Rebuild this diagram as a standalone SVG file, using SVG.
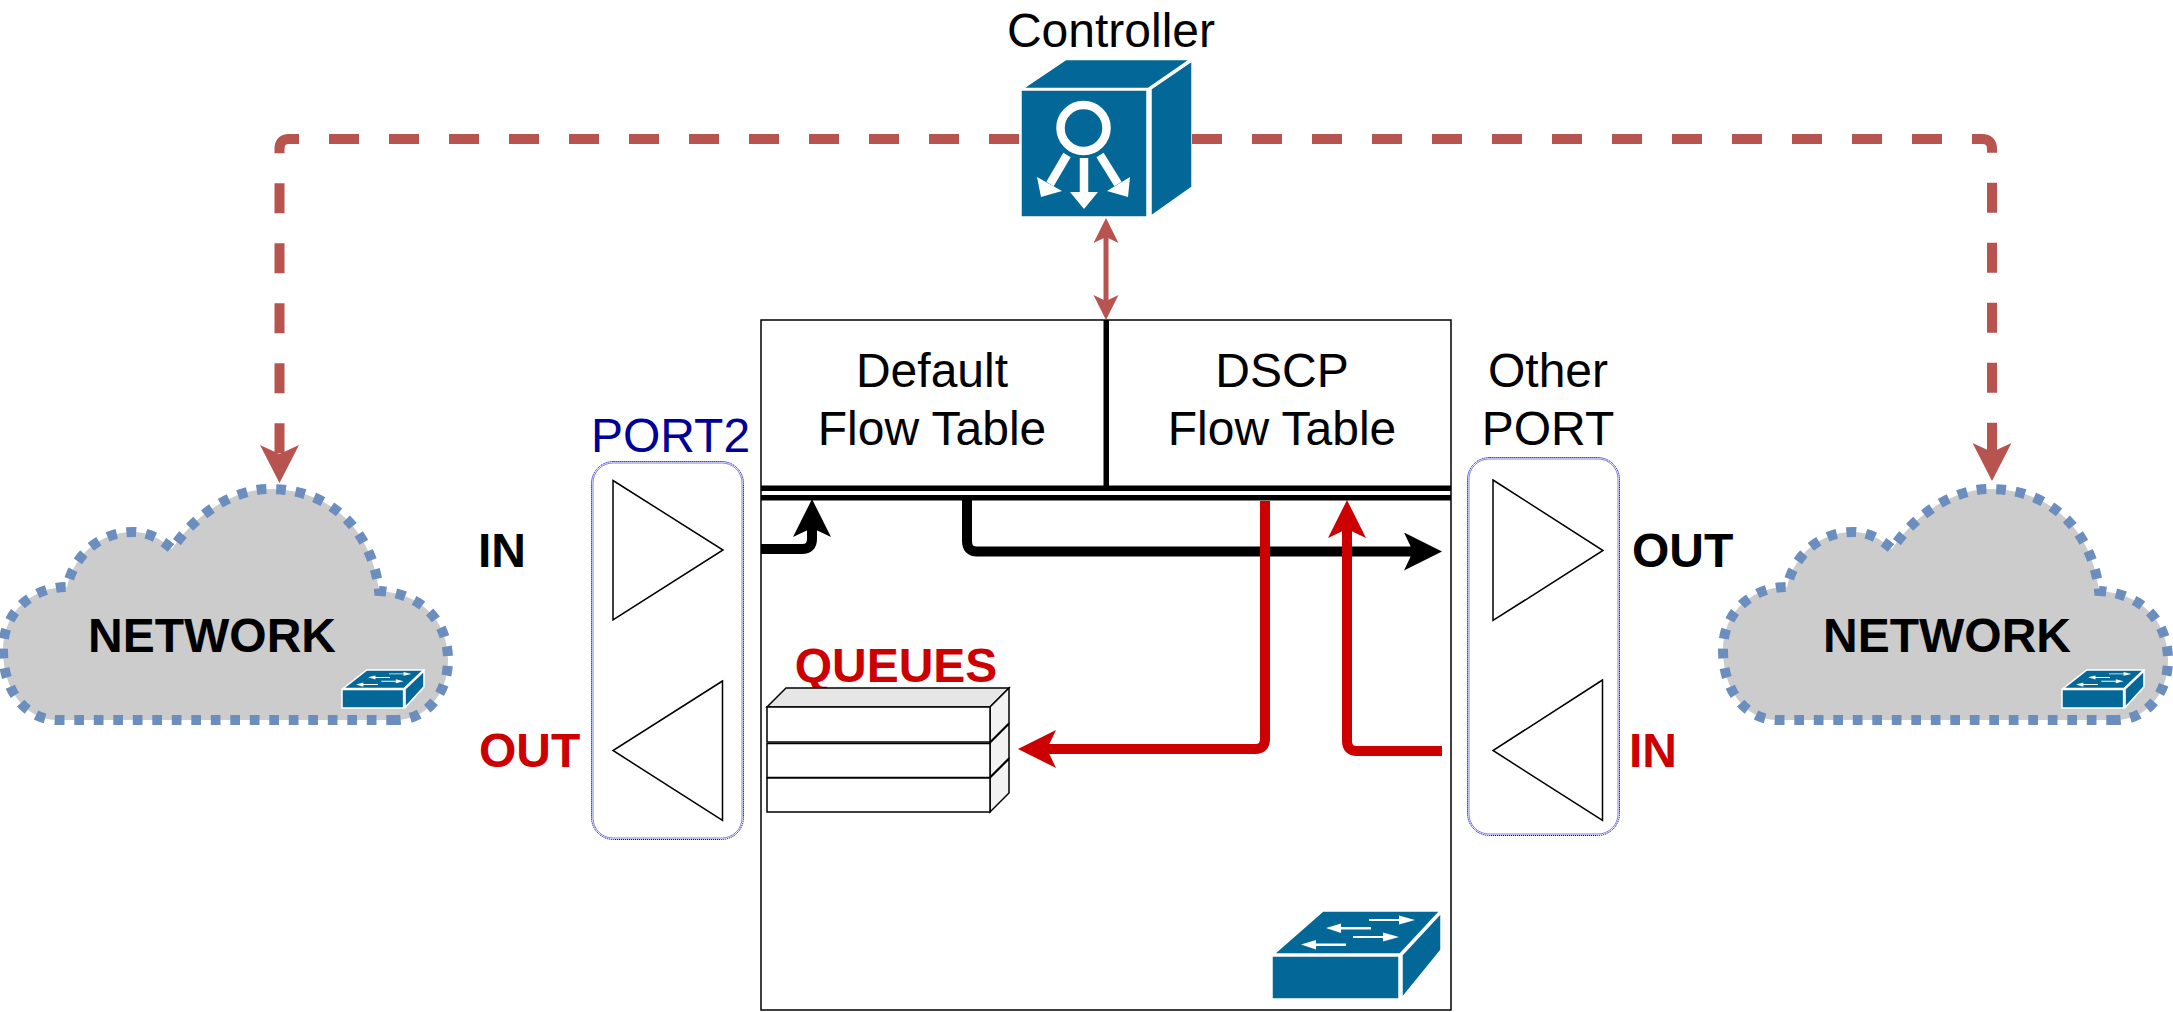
<svg xmlns="http://www.w3.org/2000/svg" width="2173" height="1012" viewBox="0 0 2173 1012">
<style>
text{font-family:"Liberation Sans",Arial,sans-serif;font-size:48px;fill:#000}
.m{text-anchor:middle}
.b{font-weight:bold}
.r{fill:#cc0000}
.cisco{fill:#036897;stroke:#fff;stroke-width:1.5;vector-effect:non-scaling-stroke}
.wh{fill:#fff;stroke:none}
.cloud{fill:#cccccc;stroke:#6c8ebf;stroke-width:10;stroke-dasharray:9.7 9.8}
.tri{fill:#fff;stroke:#000;stroke-width:1.5}
.po{fill:none;stroke:#0000cc;stroke-width:1;stroke-dasharray:1.2 .8}
.pi{fill:none;stroke:#8080e0;stroke-width:1}
.q{fill:#fff;stroke:#000;stroke-width:1.5}
.dash{fill:none;stroke:#b85450;stroke-width:10;stroke-dasharray:30 30}
.bk{fill:none;stroke:#000;stroke-width:10}
.rd{fill:none;stroke:#cc0000;stroke-width:10}
</style>
<defs>
<marker id="aDash" markerUnits="userSpaceOnUse" markerWidth="40" markerHeight="40" viewBox="0 0 40 40" refX="12" refY="19.5" orient="auto"><path d="M0 0L38 19.5L0 39L9 19.5Z" fill="#b85450"/></marker>
<marker id="aBk" markerUnits="userSpaceOnUse" markerWidth="40" markerHeight="40" viewBox="0 0 40 40" refX="12" refY="19" orient="auto"><path d="M0 0L38 19L0 38L9 19Z" fill="#000"/></marker>
<marker id="aRd" markerUnits="userSpaceOnUse" markerWidth="40" markerHeight="40" viewBox="0 0 40 40" refX="12" refY="19" orient="auto"><path d="M0 0L38 19L0 38L9 19Z" fill="#cc0000"/></marker>
<marker id="aCt" markerUnits="userSpaceOnUse" markerWidth="28" markerHeight="28" viewBox="0 0 28 28" refX="8" refY="12.5" orient="auto-start-reverse"><path d="M0 0L25 12.5L0 25L6 12.5Z" fill="#b85450"/></marker>
<path id="cloudShape" class="cloud" d="M396 720H58C25 720 3 690 3 650C3 612 32 587 67 587C74 555 100 532 133 532C147 532 160 538 172 549C195 515 232 489 270 489C330 489 372 530 379 591C420 593 448 620 448 660C448 695 425 720 396 720Z"/>
<g id="sw">
<path class="cisco" d="M0 45H127V88H0Z"/>
<path class="cisco" d="M2 43L51 0H168L128 43Z"/>
<path class="cisco" d="M130 44L169 2V39L130 87Z"/>
<path class="wh" d="M97 8h30v-3.500l16 4.500l-16 4.500v-3.500h-30z"/>
<path class="wh" d="M99 18.500h-30v3.500l-15 -5l15 -4.500v3.500h30z"/>
<path class="wh" d="M81 25h30v-3.500l16 4.500l-16 4.500v-3.500h-30z"/>
<path class="wh" d="M74 35h-30v3.500l-15 -5l15 -4.500v3.500h30z"/>
</g>
</defs>

<g id="switch-box">
<rect x="761" y="320" width="690" height="690" fill="#fff" stroke="#000" stroke-width="1.5"/>
<use href="#sw" x="0" y="0" transform="translate(1272 911)"/>
</g>

<g id="left-cloud">
<use href="#cloudShape"/>
<text class="b m" x="212" y="652">NETWORK</text>
<use href="#sw" transform="translate(342 670) scale(.485 .432)"/>
</g>
<g id="right-cloud">
<use href="#cloudShape" transform="translate(1720 0)"/>
<text class="b m" x="1947" y="652">NETWORK</text>
<use href="#sw" transform="translate(2062 670) scale(.485 .432)"/>
</g>

<g id="flow-tables">
<text class="m" x="932" y="387">Default</text>
<text class="m" x="932" y="445">Flow Table</text>
<text class="m" x="1282" y="387">DSCP</text>
<text class="m" x="1282" y="445">Flow Table</text>
<rect x="761" y="485.500" width="690" height="5.500" fill="#000"/>
<rect x="761" y="495" width="690" height="5.500" fill="#000"/>
<rect x="1103.500" y="320" width="5.500" height="166" fill="#000"/>
</g>

<g id="port2">
<text x="670.500" y="452" class="m" style="fill:#000099">PORT2</text>
<rect class="po" x="591.500" y="461.500" width="152" height="378" rx="22"/>
<rect class="pi" x="593" y="463" width="149" height="375" rx="20"/>
<path class="tri" d="M613 480.500L723 550L613 620Z"/>
<path class="tri" d="M722.500 681L613 750.500L722.500 820.500Z"/>
</g>
<g id="other-port">
<text class="m" x="1548" y="387">Other</text>
<text class="m" x="1548" y="445">PORT</text>
<rect class="po" x="1467.500" y="457.500" width="152" height="378" rx="22"/>
<rect class="pi" x="1469" y="459" width="149" height="375" rx="20"/>
<path class="tri" d="M1493 480L1603 550.500L1493 620.500Z"/>
<path class="tri" d="M1602.500 680L1493 750.500L1602.500 820.500Z"/>
</g>

<g id="queues">
<text class="b r m" x="896" y="682">QUEUES</text>
<path d="M767 707L786 688H1009L990 707Z" fill="#e6e6e6" stroke="#000" stroke-width="1.500"/>
<path d="M990 707L1009 688V723L990 742Z" fill="#f2f2f2" stroke="#000" stroke-width="1.500"/>
<path d="M990 743L1009 724V758L990 777Z" fill="#f2f2f2" stroke="#000" stroke-width="1.500"/>
<path d="M990 778L1009 759V793L990 812Z" fill="#f2f2f2" stroke="#000" stroke-width="1.500"/>
<rect class="q" x="767" y="707" width="223" height="35"/>
<rect class="q" x="767" y="743.500" width="223" height="34"/>
<rect class="q" x="767" y="778" width="223" height="34"/>
</g>

<g id="controller">
<text class="m" x="1111" y="47">Controller</text>
<path class="cisco" d="M1023 88.500L1066 59.500H1190L1148 88.500Z"/>
<path class="cisco" d="M1151 89L1192 61V187L1151 216Z"/>
<rect class="cisco" x="1021" y="90" width="126" height="127"/>
<circle cx="1083.500" cy="128" r="23" fill="none" stroke="#fff" stroke-width="8.500"/>
<path d="M1084 158V193" stroke="#fff" stroke-width="8.500"/>
<path class="wh" d="M1070 192H1098L1084 209Z"/>
<path d="M1067 155L1050 184" stroke="#fff" stroke-width="8.500"/>
<path class="wh" d="M1037 177L1041 197L1062 191Z"/>
<path d="M1100 155L1118 184" stroke="#fff" stroke-width="8.500"/>
<path class="wh" d="M1130 177L1128 197L1107 191Z"/>
</g>

<g id="connectors">
<path class="dash" d="M1019 139H289Q279.500 139 279.500 149V457" marker-end="url(#aDash)"/>
<path class="dash" d="M1192 139H1982Q1992 139 1992 149V455" marker-end="url(#aDash)"/>
<path d="M1106 235V303" fill="none" stroke="#b85450" stroke-width="5" marker-start="url(#aCt)" marker-end="url(#aCt)"/>
<path class="bk" d="M761 549H802Q812 549 812 539V525" marker-end="url(#aBk)"/>
<path class="bk" d="M967 500V541Q967 551.500 977 551.500H1416" marker-end="url(#aBk)"/>
<path class="rd" d="M1265 501V739Q1265 749 1255 749H1044" marker-end="url(#aRd)"/>
<path class="rd" d="M1442 751H1357Q1347 751 1347 741V526" marker-end="url(#aRd)"/>
</g>

<g id="labels">
<text class="b" x="478" y="567">IN</text>
<text class="b" x="1632" y="567">OUT</text>
<text class="b r" x="479" y="767">OUT</text>
<text class="b r" x="1629" y="767">IN</text>
</g>
</svg>
